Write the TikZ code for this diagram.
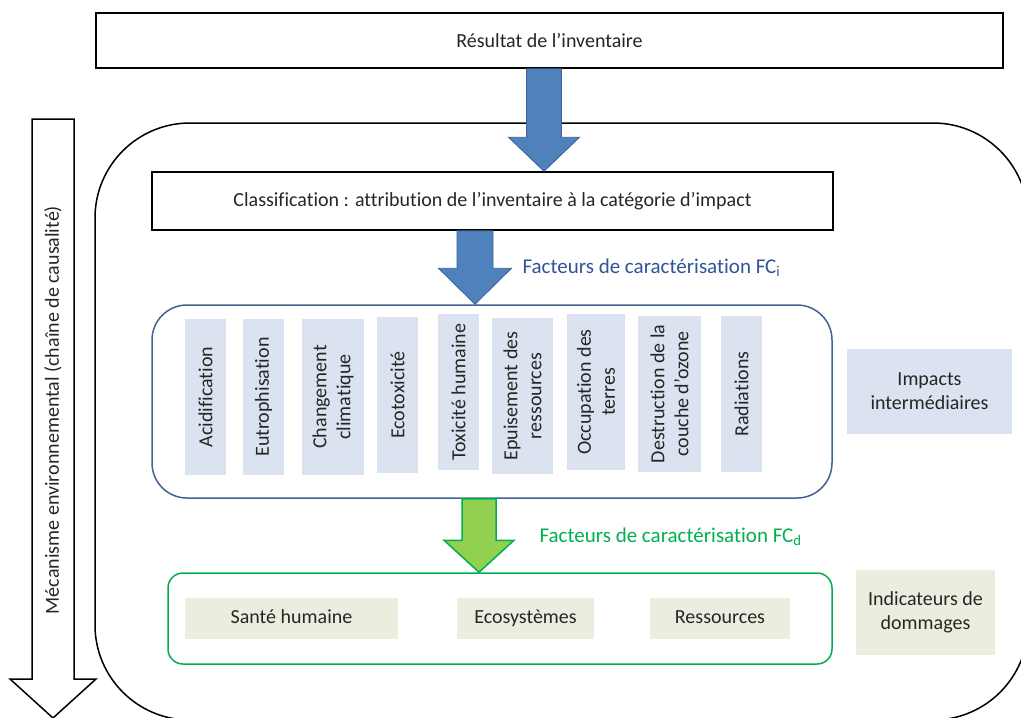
\documentclass[tikz,border=0pt]{standalone}
\usepackage{fontspec}
\setmainfont[Ligatures=NoCommon]{Carlito}
\usetikzlibrary{calc}
\definecolor{arrblue}{RGB}{79,129,189}
\definecolor{arrblueline}{RGB}{56,98,150}
\definecolor{boxblue}{RGB}{65,100,145}
\definecolor{catblue}{RGB}{220,227,240}
\definecolor{txtblue}{RGB}{47,85,151}
\definecolor{arrgreen}{RGB}{146,208,80}
\definecolor{lngreen}{RGB}{0,176,80}
\definecolor{dmgbeige}{RGB}{235,238,223}
\definecolor{txtgray}{RGB}{38,38,38}
% block arrow: style, start, tip, half shaft, half head, head length
\newcommand\blockarrow[6]{%
	\draw[#1] let \p1=(#2), \p2=(#3) in
		(\x1-#4pt,\y1) -- (\x1-#4pt,\y2+#6pt) -- (\x1-#5pt,\y2+#6pt) -- (\x2,\y2)
		-- (\x1+#5pt,\y2+#6pt) -- (\x1+#4pt,\y2+#6pt) -- (\x1+#4pt,\y1) -- cycle;}
\begin{document}
\begin{tikzpicture}[x=1pt, y=-1pt,
		every node/.style={font=\fontsize{20}{24}\selectfont, text=txtgray},
		frame/.style={draw=black, line width=1.5pt, fill=white},
		catbox/.style={fill=catblue, rotate=90, align=center, inner sep=0pt},
		dmgbox/.style={fill=dmgbeige, align=center, inner sep=0pt},
		oneline/.style={text height=14pt, text depth=4pt},
		bluearr/.style={fill=arrblue, draw=arrblueline, line width=0.8pt},
		greenarr/.style={fill=arrgreen, draw=lngreen, line width=1.5pt},
		hollowarr/.style={fill=white, draw=black, line width=1.5pt, line join=miter}]
	\useasboundingbox (0,0) rectangle (1021,718);
	\fill[white] (0,0) rectangle (1021,718);
	% causal chain
	\node[frame, rounded corners=95pt, minimum width=933, minimum height=597] (chain) at (561.5,421.5) {};
	\coordinate (mtop) at (53,119);
	\coordinate (mtip) at (53,718);
	\blockarrow{hollowarr}{mtop}{mtip}{21}{43}{39}
	\node[rotate=90] (mech) at (53,410) {Mécanisme environnemental (chaîne de causalité)};
	% inventory and classification
	\node[frame, minimum width=907, minimum height=55, inner sep=0pt] (res) at (549.5,40.5) {Résultat de l’inventaire};
	\node[frame, minimum width=681, minimum height=58, inner sep=0pt] (cls) at (492.5,201) {Classification : attribution de l’inventaire à la catégorie d’impact};
	% intermediate impacts
	\node[draw=boxblue, line width=1.5pt, rounded corners=35pt, minimum width=680, minimum height=193] (imp) at (492,401.5) {};
	\node[catbox, minimum width=156, minimum height=41] (acid) at (205.5,397) {Acidification};
	\node[catbox, minimum width=156, minimum height=41] (eutr) at (263.5,397) {Eutrophisation};
	\node[catbox, minimum width=156, minimum height=62] (clim) at (333,397) {Changement\\climatique};
	\node[catbox, minimum width=156, minimum height=41] (ecot) at (397.5,395) {Ecotoxicité};
	\node[catbox, minimum width=156, minimum height=41] (toxh) at (458.5,392) {Toxicité humaine};
	\node[catbox, minimum width=156, minimum height=61] (epui) at (522.5,396) {Epuisement des\\ressources};
	\node[catbox, minimum width=156, minimum height=58] (occu) at (596,392) {Occupation des\\terres};
	\node[catbox, minimum width=156, minimum height=63] (ozon) at (669.5,394) {Destruction de la\\couche d’ozone};
	\node[catbox, minimum width=156, minimum height=41] (radi) at (741.5,394) {Radiations};
	\node[fill=catblue, align=center, minimum width=165, minimum height=85, inner sep=0pt] (impl) at (929.5,391.5) {Impacts\\intermédiaires};
	% damage indicators
	\node[draw=lngreen, line width=1.5pt, rounded corners=15pt, minimum width=664, minimum height=91] (dmg) at (500,618.5) {};
	\node[dmgbox, oneline, minimum width=213, minimum height=41] (sant) at (291.5,618.5) {Santé humaine};
	\node[dmgbox, oneline, minimum width=137, minimum height=41] (ecos) at (525.5,618.5) {Ecosystèmes};
	\node[dmgbox, oneline, minimum width=140, minimum height=41] (ress) at (720,618.5) {Ressources};
	\node[dmgbox, minimum width=139, minimum height=85] (dmgl) at (925.5,612.5) {Indicateurs de\\dommages};
	% arrows
	\coordinate (ax1) at (544,0);
	\coordinate (ax2) at (475,0);
	\coordinate (ax3) at (479,0);
	\blockarrow{bluearr}{res.south -| ax1}{cls.north -| ax1}{17.5}{35.5}{34}
	\blockarrow{bluearr}{cls.south -| ax2}{imp.north -| ax2}{18}{36.5}{36}
	\blockarrow{greenarr}{imp.south -| ax3}{dmg.north -| ax3}{17}{35}{32}
	\node[anchor=west, text=txtblue, font=\fontsize{21}{25}\selectfont] (fci) at (519,268) {Facteurs de caractérisation FC\textsubscript{i}};
	\node[anchor=west, text=lngreen, font=\fontsize{21}{25}\selectfont] (fcd) at (536,537) {Facteurs de caractérisation FC\textsubscript{d}};
\end{tikzpicture}
\end{document}
